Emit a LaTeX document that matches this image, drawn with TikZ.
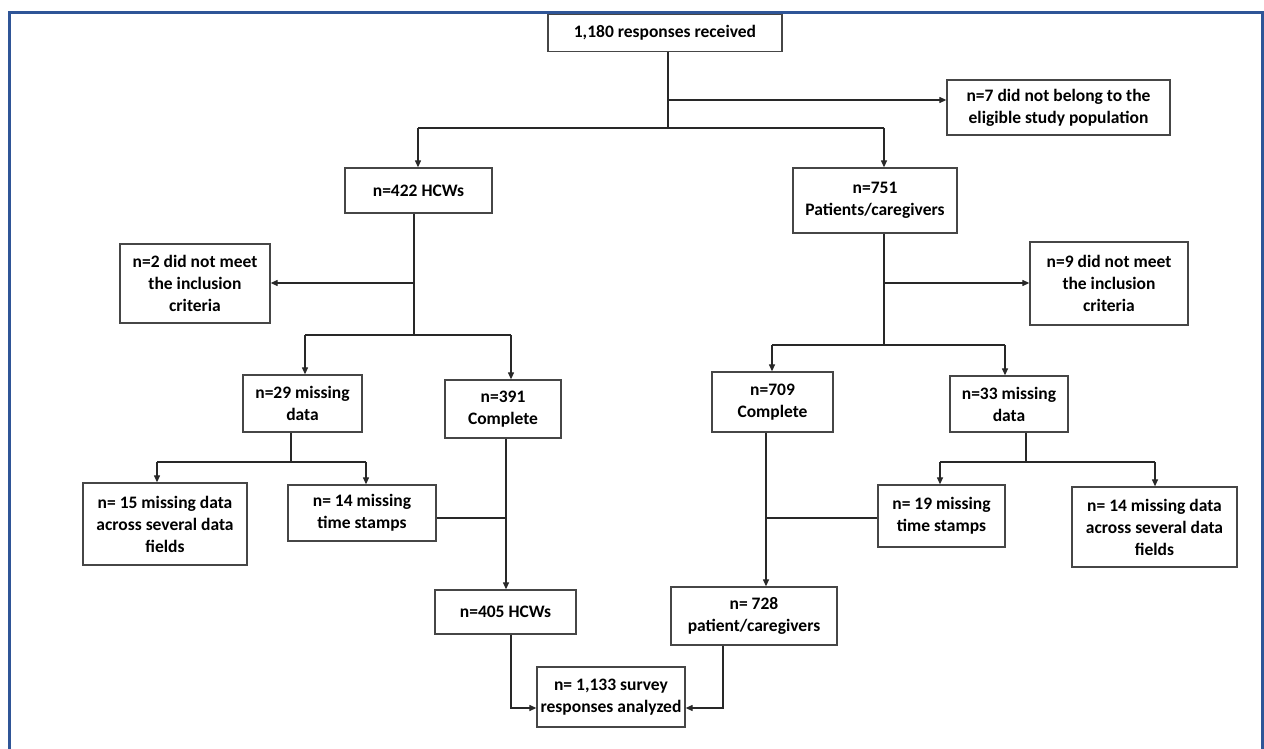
\documentclass[tikz,border=0pt]{standalone}
\usepackage{fontspec}
\setmainfont{Carlito}
\usetikzlibrary{arrows.meta}
\definecolor{framebl}{RGB}{47,85,151}
\definecolor{boxgray}{RGB}{70,70,70}
\definecolor{linegray}{RGB}{40,40,40}
\begin{document}
\begin{tikzpicture}[x=1pt,y=-1pt,
  box/.style={draw=boxgray, line width=1.3pt, align=center, inner sep=0pt, fill=white,
    font=\fontsize{17.5}{22}\selectfont\bfseries},
  conn/.style={draw=linegray, line width=1.2pt},
  arr/.style={conn, -{Triangle[length=7pt,width=6pt]}}]
\useasboundingbox (0,0) rectangle (1264,749);
\clip (0,0) rectangle (1264,749);
\fill[white] (0,0) rectangle (1264,749);
\draw[framebl, line width=3pt] (9,13) rectangle (1262,770);

% boxes
\node[box, minimum width=234pt, minimum height=37pt] (A) at (665,33) {1,180 responses received};
\node[box, minimum width=223pt, minimum height=55pt] (B7) at (1058.5,107.5) {n=7 did not belong to the\\eligible study population};
\node[box, minimum width=147pt, minimum height=45pt] (HCW) at (418.5,190.5) {n=422 HCWs};
\node[box, minimum width=164pt, minimum height=65pt] (P) at (875,200.5) {n=751\\Patients/caregivers};
\node[box, minimum width=150pt, minimum height=79pt] (N2) at (195,283.5) {n=2 did not meet\\the inclusion\\criteria};
\node[box, minimum width=158pt, minimum height=83pt] (N9) at (1109,283.5) {n=9 did not meet\\the inclusion\\criteria};
\node[box, minimum width=119pt, minimum height=57pt] (M29) at (302.5,403.5) {n=29 missing\\data};
\node[box, minimum width=116pt, minimum height=58pt] (C391) at (503,409) {n=391\\Complete};
\node[box, minimum width=121pt, minimum height=60pt] (C709) at (772.5,402) {n=709\\Complete};
\node[box, minimum width=118pt, minimum height=56pt] (M33) at (1009,404) {n=33 missing\\data};
\node[box, minimum width=164pt, minimum height=82pt] (F15) at (165,524) {n= 15 missing data\\across several data\\fields};
\node[box, minimum width=148pt, minimum height=56pt] (T14) at (362,513) {n= 14 missing\\time stamps};
\node[box, minimum width=127pt, minimum height=62pt] (T19) at (941.5,516) {n= 19 missing\\time stamps};
\node[box, minimum width=165pt, minimum height=80pt] (F14) at (1154.5,527) {n= 14 missing data\\across several data\\fields};
\node[box, minimum width=141pt, minimum height=44pt] (H405) at (505.5,612) {n=405 HCWs};
\node[box, minimum width=166pt, minimum height=58pt] (R728) at (754,616) {n= 728\\patient/caregivers};
\node[box, minimum width=148pt, minimum height=60pt] (S) at (611,697) {n= 1,133 survey\\responses analyzed};

% junction coordinates
\coordinate (a1) at (668,100);
\coordinate (a2) at (668,128);
\coordinate (aL) at (418,128);
\coordinate (aR) at (884,128);
\coordinate (h1) at (414,283);
\coordinate (h2) at (414,335);
\coordinate (hL) at (305,335);
\coordinate (hR) at (511,335);
\coordinate (p1) at (884,283);
\coordinate (p2) at (884,345);
\coordinate (pL) at (772,345);
\coordinate (pR) at (1005,345);
\coordinate (m1) at (291,462);
\coordinate (mL) at (157,462);
\coordinate (mR) at (366,462);
\coordinate (n1) at (1026,462);
\coordinate (nL) at (940,462);
\coordinate (nR) at (1155,462);
\coordinate (c1) at (506,518);
\coordinate (d1) at (766,518);
\coordinate (s1) at (511,708);
\coordinate (s2) at (723,708);

% connectors
\draw[conn] (A.south -| a2) -- (a2);
\draw[arr] (a1) -- (a1 -| B7.west);
\draw[conn] (aL) -- (aR);
\draw[arr] (aL) -- (aL |- HCW.north);
\draw[arr] (aR) -- (aR |- P.north);

\draw[conn] (HCW.south -| h2) -- (h2);
\draw[arr] (h1) -- (h1 -| N2.east);
\draw[conn] (hL) -- (hR);
\draw[arr] (hL) -- (hL |- M29.north);
\draw[arr] (hR) -- (hR |- C391.north);

\draw[conn] (P.south -| p2) -- (p2);
\draw[arr] (p1) -- (p1 -| N9.west);
\draw[conn] (pL) -- (pR);
\draw[arr] (pL) -- (pL |- C709.north);
\draw[arr] (pR) -- (pR |- M33.north);

\draw[conn] (M29.south -| m1) -- (m1);
\draw[conn] (mL) -- (mR);
\draw[arr] (mL) -- (mL |- F15.north);
\draw[arr] (mR) -- (mR |- T14.north);

\draw[conn] (M33.south -| n1) -- (n1);
\draw[conn] (nL) -- (nR);
\draw[arr] (nL) -- (nL |- T19.north);
\draw[arr] (nR) -- (nR |- F14.north);

\draw[arr] (C391.south -| c1) -- (c1 |- H405.north);
\draw[conn] (T14.east |- c1) -- (c1);
\draw[arr] (C709.south -| d1) -- (d1 |- R728.north);
\draw[conn] (T19.west |- d1) -- (d1);

\draw[arr] (H405.south -| s1) -- (s1) -- (s1 -| S.west);
\draw[arr] (R728.south -| s2) -- (s2) -- (s2 -| S.east);
\end{tikzpicture}
\end{document}
